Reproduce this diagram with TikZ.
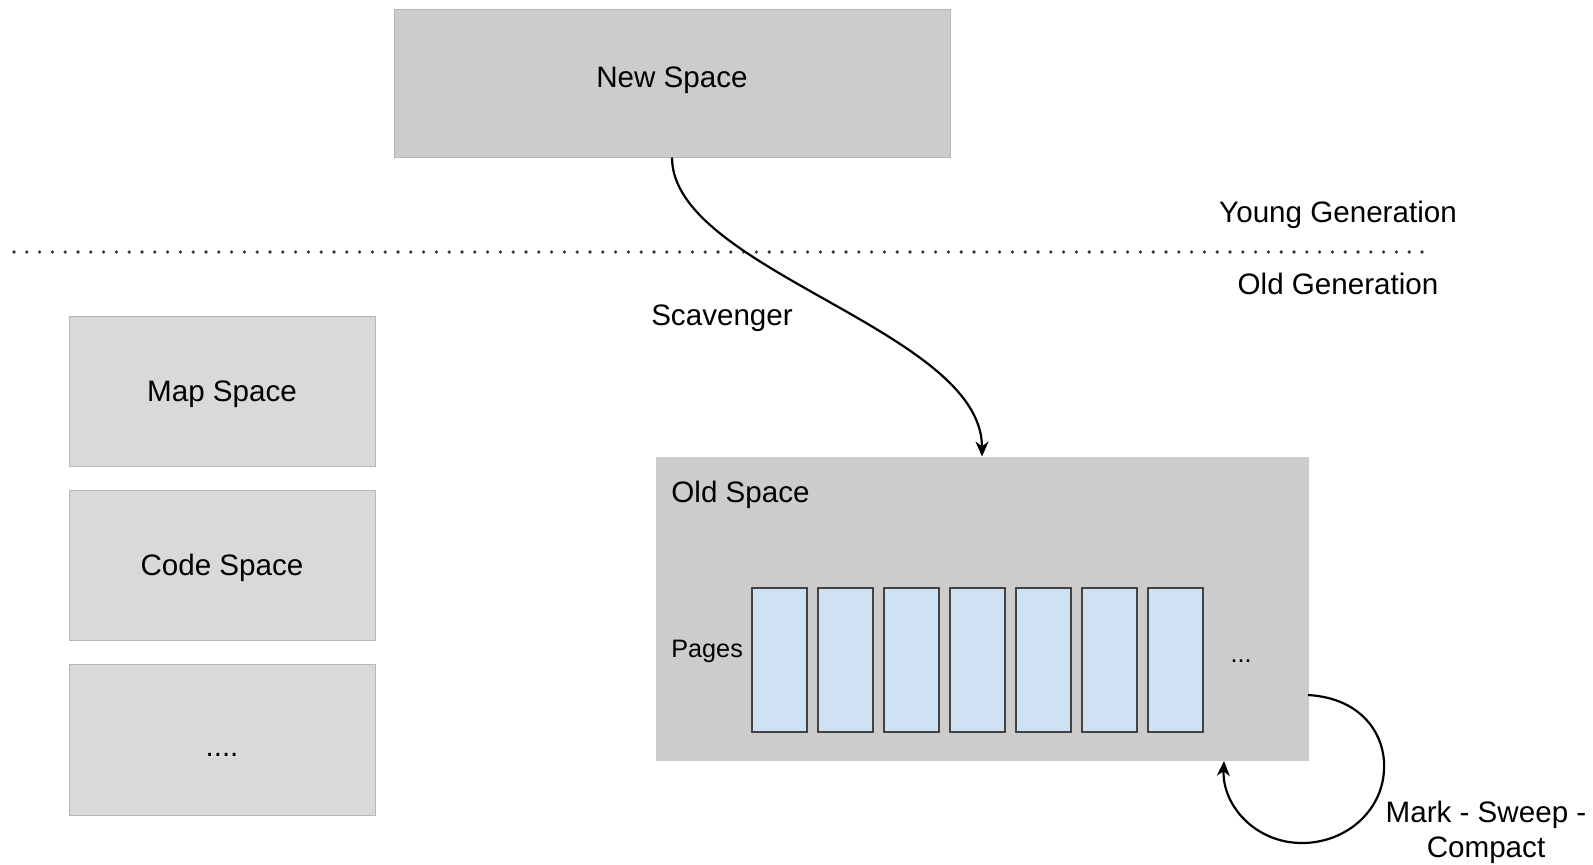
\documentclass[tikz,border=0pt]{standalone}
\usepackage{fontspec}
\setmainfont{Liberation Sans}
\usetikzlibrary{arrows.meta}
\definecolor{boxdark}{HTML}{CCCCCC}
\definecolor{boxlight}{HTML}{D9D9D9}
\definecolor{pagefill}{HTML}{CFE2F3}
\definecolor{edge}{HTML}{B7B7B7}
\definecolor{pageedge}{HTML}{434343}
\begin{document}
\begin{tikzpicture}[x=0.5pt,y=-0.5pt,
  txt/.style={inner sep=0pt,text height=10.6pt,text depth=0pt,font=\fontsize{14.8}{18.5}\selectfont},
  spacebox/.style={draw=edge,line width=0.5pt,inner sep=0pt,font=\fontsize{14.8}{18.5}\selectfont,text height=10.6pt,text depth=0pt},
  pagebox/.style={draw=pageedge,fill=pagefill,line width=0.75pt,minimum width=27.5pt,minimum height=72pt,inner sep=0pt},
  conn/.style={line width=1.1pt,-{Stealth[length=7.5pt,width=6.5pt]}}]
\useasboundingbox (0,0) rectangle (1593,864);

% young generation
\node[spacebox,fill=boxdark,minimum width=278pt,minimum height=74pt,text depth=6pt] (new) at (672,83) {New Space};

% separator
\coordinate (dl) at (14,252);
\coordinate (dr) at (1431,252);
\draw[black!80,line width=1.8pt,line cap=round,dash pattern=on 0pt off 6.4pt] (dl) -- (dr);
\node[txt] (young) at (1338,212) {Young Generation};
\node[txt] (oldgen) at (1338,283.5) {Old Generation};

% left spaces
\node[spacebox,fill=boxlight,minimum width=153pt,minimum height=75pt] (map) at (222,391) {Map Space};
\node[spacebox,fill=boxlight,minimum width=153pt,minimum height=75pt] (code) at (222,565) {Code Space};
\node[spacebox,fill=boxlight,minimum width=153pt,minimum height=75.5pt,text height=16.6pt] (more) at (222,739.5) {....};

% old space
\node[spacebox,fill=boxdark,draw=boxdark,minimum width=326pt,minimum height=151.5pt] (old) at (982,608.5) {};
\node[txt,anchor=west] (oldlbl) at (671,492) {Old Space};
\node[txt,anchor=west,font=\fontsize{12.6}{15}\selectfont,text height=9pt] (pages) at (671,648) {Pages};
\node[pagebox] (p1) at (779.5,660) {};
\node[pagebox] (p2) at (845.5,660) {};
\node[pagebox] (p3) at (911.5,660) {};
\node[pagebox] (p4) at (977.5,660) {};
\node[pagebox] (p5) at (1043.5,660) {};
\node[pagebox] (p6) at (1109.5,660) {};
\node[pagebox] (p7) at (1175.5,660) {};
\node[inner sep=0pt,anchor=base,font=\fontsize{12.6}{15}\selectfont] (pdots) at (1241,662) {...};

% scavenger
\draw[conn] (new.south) .. controls (672,270) and (982,330) .. (old.north);
\node[txt] (scav) at (722,315) {Scavenger};

% mark-sweep-compact loop
\coordinate (lo) at (1308,695);
\coordinate (li) at (1224,761);
\draw[conn] (lo) .. controls (1362,698) and (1386,735) .. (1384,770)
  .. controls (1382,812) and (1345,843) .. (1302,843)
  .. controls (1255,843) and (1222,805) .. (li);
\node[inner sep=0pt,anchor=base,align=center,font=\fontsize{14.8}{17.5}\selectfont] (msc) at (1486,857) {Mark - Sweep -\\Compact};
\end{tikzpicture}
\end{document}
